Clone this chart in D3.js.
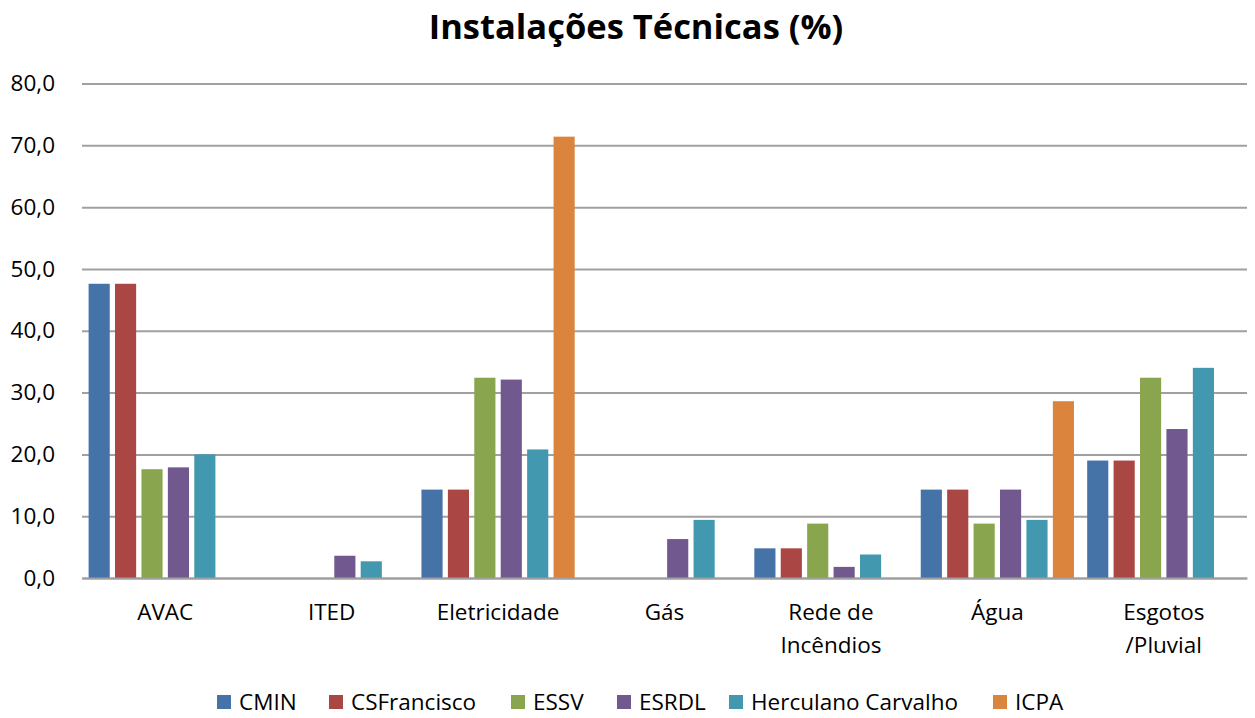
<!DOCTYPE html>
<html>
<head>
<meta charset="utf-8">
<script src="https://cdn.jsdelivr.net/npm/d3@7"></script>
<style>
  body { margin: 0; background: #fff; }
  text { font-family: "Open Sans", "Noto Sans", sans-serif; fill: #000; }
</style>
</head>
<body>
<div id="chart"></div>
<script>
// categories and series
var categories = ["AVAC", "ITED", "Eletricidade", "Gás", "Rede de|Incêndios", "Água", "Esgotos|/Pluvial"];
var seriesNames = ["CMIN", "CSFrancisco", "ESSV", "ESRDL", "Herculano Carvalho", "ICPA"];
var seriesColors = ["#4572A7", "#AA4643", "#89A54E", "#71588F", "#4198AF", "#DB843D"];

var cmin        = [47.6, 0, 14.3, 0, 4.8, 14.3, 19.0];
var csFrancisco = [47.6, 0, 14.3, 0, 4.8, 14.3, 19.0];
var essv        = [17.6, 0, 32.4, 0, 8.8, 8.8, 32.4];
var esrdl       = [17.9, 3.6, 32.1, 6.3, 1.8, 14.3, 24.1];
var herculano   = [20.0, 2.7, 20.8, 9.4, 3.8, 9.4, 34.0];
var icpa        = [0, 0, 71.4, 0, 0, 28.6, 0];
var seriesValues = [cmin, csFrancisco, essv, esrdl, herculano, icpa];

var yTicks = [0, 10, 20, 30, 40, 50, 60, 70, 80];

var width = 1255, height = 718;
var margin = {top: 83.5, right: 8, bottom: 140, left: 82};

var svg = d3.select("#chart")
    .append("svg")
    .attr("width", width)
    .attr("height", height);

var x0 = d3.scaleBand()
    .domain(categories)
    .range([margin.left, width - margin.right])
    .paddingInner(0)
    .paddingOuter(0);

var x1 = d3.scaleBand()
    .domain(seriesNames)
    .range([0, x0.bandwidth()])
    .paddingInner(0.2)
    .paddingOuter(0.25);

var y = d3.scaleLinear()
    .domain([0, 80])
    .range([height - margin.bottom, margin.top]);

//gridlines
var yAxis = svg.append("g")
    .attr("class", "yAxis")
    .attr("transform", "translate(" + margin.left + ",0)")
    .call(d3.axisLeft(y)
        .tickValues(yTicks)
        .tickSize(-(width - margin.left - margin.right))
        .tickPadding(27)
        .tickFormat(function(d) { return d3.format(".1f")(d).replace(".", ","); }));
yAxis.select(".domain").remove();
yAxis.selectAll(".tick line")
    .attr("stroke", "#a0a0a0")
    .attr("stroke-width", 2);
yAxis.selectAll(".tick text")
    .attr("font-size", "22.5px")
    .style("font-family", "'Open Sans', sans-serif")
    .attr("fill", "#000");

//bars
var groups = svg.append("g")
    .selectAll("g")
    .data(categories)
    .enter()
    .append("g")
    .attr("transform", function(d) { return "translate(" + x0(d) + ",0)"; });

groups.selectAll("rect")
    .data(function(d, i) {
        return seriesNames.map(function(s, j) {
            return {series: s, value: seriesValues[j][i], color: seriesColors[j]};
        }).filter(function(e) { return e.value > 0; });
    })
    .enter()
    .append("rect")
    .attr("x", function(d) { return x1(d.series); })
    .attr("y", function(d) { return y(d.value); })
    .attr("width", x1.bandwidth())
    .attr("height", function(d) { return y(0) - y(d.value); })
    .attr("fill", function(d) { return d.color; });

//x axis labels
var xAxis = svg.append("g")
    .attr("class", "xAxis")
    .attr("transform", "translate(0," + y(0) + ")")
    .call(d3.axisBottom(x0).tickSize(0).tickPadding(0));
xAxis.select(".domain")
    .attr("stroke", "#a0a0a0")
    .attr("stroke-width", 2);
xAxis.selectAll(".tick text").remove();
xAxis.selectAll(".tick")
    .append("text")
    .attr("text-anchor", "middle")
    .attr("font-size", "22.5px")
    .each(function(d) {
        var lines = d.split("|");
        var t = d3.select(this);
        lines.forEach(function(l, i) {
            t.append("tspan")
                .attr("x", 0)
                .attr("y", 42 + i * 33)
                .text(l);
        });
    });

//title
svg.append("text")
    .attr("x", 636)
    .attr("y", 39)
    .attr("text-anchor", "middle")
    .attr("font-size", "34.5px")
    .attr("font-weight", "bold")
    .text("Instalações Técnicas (%)");

//legend
var legendX = [217, 329, 511, 617, 729, 993];
var legend = svg.append("g")
    .selectAll("g")
    .data(seriesNames)
    .enter()
    .append("g")
    .attr("transform", function(d, i) { return "translate(" + legendX[i] + ",695)"; });
legend.append("rect")
    .attr("width", 14)
    .attr("height", 14)
    .attr("fill", function(d, i) { return seriesColors[i]; });
legend.append("text")
    .attr("x", 22)
    .attr("y", 14.5)
    .attr("font-size", "22.5px")
    .text(function(d) { return d; });
</script>
</body>
</html>
